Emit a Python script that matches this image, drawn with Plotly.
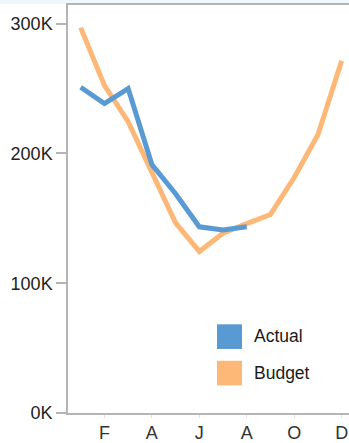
import plotly.graph_objects as go

months = ["Jan", "Feb", "Mar", "Apr", "May", "Jun", "Jul", "Aug", "Sep", "Oct", "Nov", "Dec"]
actual = [251000, 238500, 250000, 191500, 169000, 143500, 141000, 143500]
budget = [297000, 252500, 224500, 186000, 146500, 124500, 138500, 146000, 153000, 181500, 214500, 271500]

x_tickvals = ["Feb", "Apr", "Jun", "Aug", "Oct", "Dec"]
x_ticktext = ["F", "A", "J", "A", "O", "D"]
y_tickvals = [0, 100000, 200000, 300000]
y_ticktext = ["0K", "100K", "200K", "300K"]

BLUE = "#5A9AD3"
ORANGE = "#FDB877"
FONT = "Liberation Sans, Arial, sans-serif"

W, H = 349, 443
L, R, T, B = 68, 0, 5, 24
pw, ph = W - L - R, H - T - B

def px(x):
    return (x - L) / pw

def py(y):
    return (H - B - y) / ph

fig = go.Figure()
fig.add_trace(go.Scatter(x=months, y=budget, mode="lines", name="Budget",
                         line=dict(color=ORANGE, width=5), showlegend=False))
fig.add_trace(go.Scatter(x=months[:len(actual)], y=actual, mode="lines", name="Actual",
                         line=dict(color=BLUE, width=5), showlegend=False))

shapes = [
    dict(type="rect", xref="paper", yref="paper", x0=px(0), x1=px(W), y0=py(4), y1=py(-1),
         fillcolor="#eff8fc", line=dict(width=0), layer="below"),
    dict(type="rect", xref="paper", yref="paper", x0=px(217), x1=px(242), y0=py(354), y1=py(329),
         fillcolor=BLUE, line=dict(width=0)),
    dict(type="rect", xref="paper", yref="paper", x0=px(217), x1=px(242), y0=py(391), y1=py(366),
         fillcolor=ORANGE, line=dict(width=0)),
]
annotations = [
    dict(xref="paper", yref="paper", x=px(252), y=py(341), text="Actual", showarrow=False,
         xanchor="left", yanchor="middle", font=dict(family=FONT, size=17.5, color="#1a1a1a")),
    dict(xref="paper", yref="paper", x=px(252), y=py(378), text="Budget", showarrow=False,
         xanchor="left", yanchor="middle", font=dict(family=FONT, size=17.5, color="#1a1a1a")),
]

fig.update_layout(
    width=W, height=H,
    margin=dict(l=L, r=R, t=T, b=B, pad=0),
    paper_bgcolor="white", plot_bgcolor="white",
    font=dict(family=FONT, size=18, color="#222222"),
    shapes=shapes, annotations=annotations,
    xaxis=dict(
        type="category", categoryorder="array", categoryarray=months,
        range=[-0.535, 11.31],
        tickmode="array", tickvals=x_tickvals, ticktext=x_ticktext,
        showgrid=False, zeroline=False,
        showline=True, linecolor="#b4b4b4", linewidth=1.5, mirror=True,
        ticks="outside", ticklen=3, tickcolor="#e2e2e2", tickwidth=1,
        tickfont=dict(family=FONT, size=18, color="#333333"),
    ),
    yaxis=dict(
        range=[0, 314430],
        tickmode="array", tickvals=y_tickvals, ticktext=y_ticktext,
        showgrid=False, zeroline=False,
        showline=True, linecolor="#b4b4b4", linewidth=1.5,
        ticks="outside", ticklen=10, tickcolor="#b4b4b4", tickwidth=1.5,
        tickfont=dict(family=FONT, size=18, color="#222222"),
    ),
)

fig.write_html("out.html")
